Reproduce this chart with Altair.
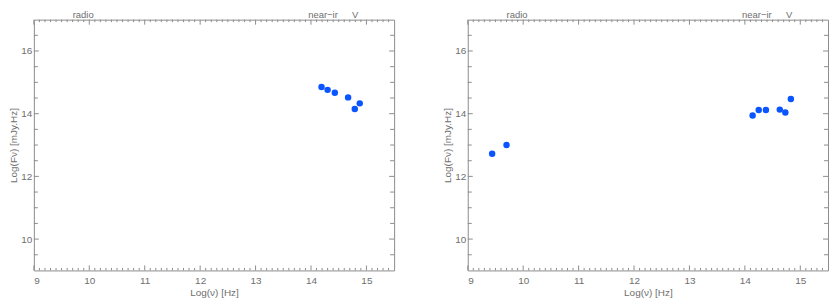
import altair as alt
import pandas as pd
import numpy as np

# ---- data ----
left_lognu = [14.19, 14.30, 14.43, 14.67, 14.79, 14.88]
left_logf = [14.85, 14.76, 14.67, 14.52, 14.15, 14.33]

right_lognu = [9.44, 9.70, 14.14, 14.25, 14.38, 14.63, 14.73, 14.83]
right_logf = [12.72, 13.00, 13.94, 14.12, 14.12, 14.13, 14.04, 14.47]

band_names = ["radio", "near\u2212ir", "V"]
band_lognu = [9.70, 13.95, 14.74]

x_major = [9, 10, 11, 12, 13, 14, 15]
y_major = [10, 12, 14, 16]
x_domain = [9, 15.5]
y_domain = [9, 17]

x_minor = [round(v, 1) for v in np.arange(9.1, 15.45, 0.1) if abs(v - round(v)) > 1e-6]
y_minor = [v for v in np.arange(9.5, 17, 0.5) if v not in y_major]

AX = "#8c8c8c"
TXT = "#6e6e6e"
PT = "#0a55ff"
FONT = "Liberation Sans"
W, H = 362, 252


def panel(nu, f):
    xs = alt.Scale(domain=x_domain, nice=False, zero=False)
    ys = alt.Scale(domain=y_domain, nice=False, zero=False)
    xaxis = alt.Axis(values=x_major, ticks=False, domain=False, grid=False,
                     format="d", title="Log(\u03bd) [Hz]", labelPadding=5, titlePadding=2)
    yaxis = alt.Axis(values=y_major, ticks=False, domain=False, grid=False,
                     format="d", title="Log(F\u03bd) [mJy.Hz]", labelPadding=2, titlePadding=2)
    X = alt.X("nu:Q", scale=xs, axis=xaxis)
    Y = alt.Y("f:Q", scale=ys, axis=yaxis)

    pts = pd.DataFrame({"nu": nu, "f": f})
    points = alt.Chart(pts).mark_circle(size=42, color=PT, opacity=1).encode(x=X, y=Y)

    def xrules(vals, y0, y1):
        return alt.Chart(pd.DataFrame({"nu": vals})).mark_rule(color=AX, strokeWidth=1).encode(
            x=X, y=alt.value(y0), y2=alt.value(y1))

    def yrules(vals, x0, x1):
        return alt.Chart(pd.DataFrame({"f": vals})).mark_rule(color=AX, strokeWidth=1).encode(
            y=Y, x=alt.value(x0), x2=alt.value(x1))

    ticks = [
        xrules(x_minor, H, H - 2.5), xrules(x_major, H, H - 5),
        xrules(x_minor, 0, 2.5), xrules(x_major, 0, 5),
        yrules(y_minor, 0, 4), yrules(y_major, 0, 5),
        yrules(y_minor, W, W - 4), yrules(y_major, W, W - 5),
    ]

    labels = alt.Chart(pd.DataFrame({"nu": band_lognu, "name": band_names})).mark_text(
        align="left", baseline="alphabetic", fontSize=9.5, font=FONT, fill=TXT, color=TXT
    ).encode(x=X, y=alt.value(-2), text="name:N")

    return alt.layer(points, *ticks, labels).properties(width=W, height=H)


chart = alt.hconcat(panel(left_lognu, left_logf), panel(right_lognu, right_logf), spacing=47).properties(
    padding={"left": 0, "top": 0, "right": 0, "bottom": 0}
).configure_view(stroke=AX, strokeWidth=1).configure_axis(
    labelFont=FONT, titleFont=FONT, labelFontSize=10, titleFontSize=10,
    labelColor=TXT, titleColor=TXT, titleFontWeight="normal"
)

chart.save("out.html", embed_options={"renderer": "svg", "actions": False})
